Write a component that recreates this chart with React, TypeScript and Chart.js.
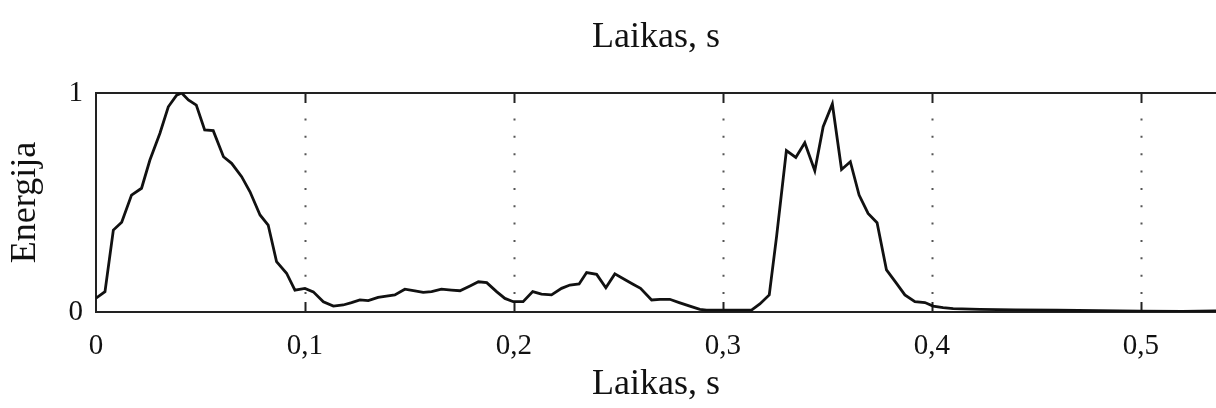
import React, { useEffect, useRef } from "react";
import { Chart, registerables } from "chart.js";

Chart.register(...registerables);

// Time samples (s)
const times = [
  0, 0.0043, 0.0083, 0.0123, 0.017, 0.0218, 0.0258, 0.0306, 0.0346, 0.0386,
  0.041, 0.0442, 0.048, 0.052, 0.0561, 0.061, 0.0649, 0.0697, 0.0737, 0.0785,
  0.0824, 0.0864, 0.0912, 0.0952, 0.1, 0.104, 0.1088, 0.1136, 0.1183, 0.1223,
  0.1263, 0.1303, 0.135, 0.139, 0.143, 0.1478, 0.1526, 0.1566, 0.1606, 0.1653,
  0.1701, 0.1742, 0.179, 0.183, 0.187, 0.1917, 0.1957, 0.1997, 0.2044, 0.209,
  0.2132, 0.218, 0.2228, 0.2268, 0.2312, 0.2348, 0.2396, 0.244, 0.2483, 0.2526,
  0.2568, 0.2606, 0.2659, 0.2699, 0.2746, 0.2791, 0.2842, 0.289, 0.2922, 0.2993,
  0.3137, 0.3177, 0.3222, 0.3257, 0.3304, 0.3349, 0.3392, 0.344, 0.348, 0.3524,
  0.3568, 0.361, 0.3652, 0.3695, 0.3738, 0.3783, 0.3831, 0.3871, 0.3919, 0.3967,
  0.4006, 0.4054, 0.4102, 0.423, 0.44, 0.46, 0.48, 0.5, 0.52, 0.536,
];

// Normalised energy
const energy = [
  0.063, 0.093, 0.374, 0.41, 0.534, 0.565, 0.694, 0.816, 0.937, 0.99,
  1.0, 0.968, 0.945, 0.831, 0.828, 0.709, 0.679, 0.618, 0.549, 0.443,
  0.397, 0.23, 0.177, 0.1, 0.108, 0.092, 0.047, 0.027, 0.032, 0.043,
  0.055, 0.052, 0.067, 0.073, 0.078, 0.104, 0.097, 0.09, 0.093, 0.104,
  0.1, 0.097, 0.119, 0.138, 0.134, 0.093, 0.062, 0.047, 0.047, 0.093,
  0.082, 0.078, 0.108, 0.123, 0.128, 0.18, 0.172, 0.111, 0.174, 0.151,
  0.128, 0.108, 0.055, 0.058, 0.058, 0.043, 0.027, 0.012, 0.009, 0.009,
  0.009, 0.037, 0.078, 0.344, 0.737, 0.706, 0.773, 0.645, 0.846, 0.95,
  0.651, 0.686, 0.534, 0.45, 0.408, 0.192, 0.131, 0.078, 0.047, 0.043,
  0.027, 0.02, 0.015, 0.012, 0.01, 0.008, 0.006, 0.004, 0.003, 0.005,
];

const xGridValues = [0.1, 0.2, 0.3, 0.4, 0.5];
const xMin = 0;
const xMax = 0.536;
const axisTitle = "Laikas, s";
const yTitle = "Energija";

const FONT = '"Liberation Serif", "Times New Roman", serif';

const gridPlugin = {
  id: "dottedGrid",
  beforeDatasetsDraw(chart: any) {
    const { ctx, chartArea, scales } = chart;
    const { top, bottom } = chartArea;
    ctx.save();
    xGridValues.forEach((v) => {
      const x = Math.round(scales.x.getPixelForValue(v)) + 0.5;
      ctx.strokeStyle = "#555";
      ctx.lineWidth = 2;
      ctx.setLineDash([2, 15.35]);
      ctx.beginPath();
      ctx.moveTo(x, top + 25.5);
      ctx.lineTo(x, bottom - 17);
      ctx.stroke();
      ctx.setLineDash([]);
      ctx.strokeStyle = "#222";
      ctx.lineWidth = 2;
      ctx.beginPath();
      ctx.moveTo(x, top);
      ctx.lineTo(x, top + 10);
      ctx.moveTo(x, bottom);
      ctx.lineTo(x, bottom - 10);
      ctx.stroke();
    });
    ctx.restore();
  },
};

const fmt = (v: number) =>
  Number.isInteger(v) ? String(v) : v.toFixed(1).replace(".", ",");

export default function App() {
  const ref = useRef<HTMLCanvasElement>(null);

  useEffect(() => {
    if (!ref.current) return;
    const data = times.map((t, i) => ({ x: t, y: energy[i] }));
    const chart = new Chart(ref.current, {
      type: "line",
      data: {
        datasets: [
          {
            data,
            borderColor: "#111",
            borderWidth: 2.8,
            pointRadius: 0,
            tension: 0,
            fill: false,
          },
        ],
      },
      plugins: [gridPlugin],
      options: {
        animation: false,
        responsive: true,
        maintainAspectRatio: false,
        layout: { padding: 0 },
        plugins: { legend: { display: false }, tooltip: { enabled: false } },
        scales: {
          x: {
            type: "linear",
            position: "bottom",
            min: xMin,
            max: xMax,
            grid: { display: false, drawTicks: false },
            border: { display: true, color: "#222", width: 2 },
            ticks: {
              stepSize: 0.1,
              includeBounds: false,
              maxRotation: 0,
              autoSkip: false,
              padding: 17,
              color: "#111",
              font: { family: FONT, size: 29 },
              callback: (v: any) => fmt(Number(v)),
            },
            title: {
              display: true,
              text: axisTitle,
              color: "#111",
              font: { family: FONT, size: 36 },
              padding: { top: 0, bottom: 2 },
            },
            afterFit: (s: any) => {
              s.height = 96;
            },
          },
          x2: {
            type: "linear",
            position: "top",
            min: xMin,
            max: xMax,
            grid: { display: false, drawTicks: false },
            border: { display: true, color: "#222", width: 2 },
            ticks: { display: false },
            title: {
              display: true,
              text: axisTitle,
              color: "#111",
              font: { family: FONT, size: 36 },
              padding: { top: 16, bottom: 0 },
            },
            afterFit: (s: any) => {
              s.height = 93;
            },
          },
          y: {
            type: "linear",
            position: "left",
            min: 0,
            max: 1,
            grid: { display: false, drawTicks: false },
            border: { display: true, color: "#222", width: 2 },
            ticks: {
              stepSize: 1,
              padding: 13,
              color: "#111",
              font: { family: FONT, size: 29 },
              callback: (v: any) => fmt(Number(v)),
            },
            title: {
              display: true,
              text: yTitle,
              color: "#111",
              font: { family: FONT, size: 36 },
              padding: { top: 4, bottom: 0 },
            },
            afterFit: (s: any) => {
              s.width = 96;
            },
          },
        },
      },
    });
    return () => chart.destroy();
  }, []);

  return (
    <div
      style={{
        position: "fixed",
        left: 0,
        top: 0,
        width: 1216,
        height: 408,
        background: "#fff",
      }}
    >
      <canvas ref={ref} />
    </div>
  );
}
